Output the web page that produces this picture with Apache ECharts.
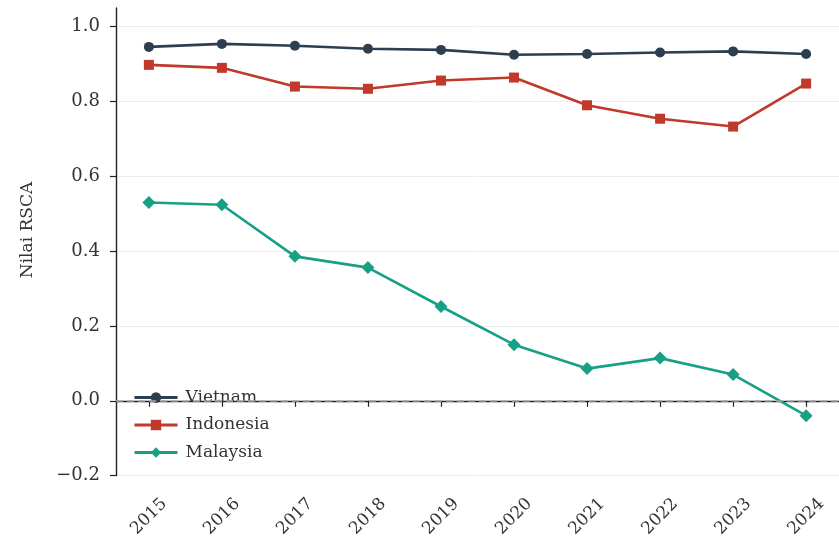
<!DOCTYPE html>
<html>
<head>
<meta charset="utf-8">
<script src="https://cdn.jsdelivr.net/npm/echarts@6/dist/echarts.min.js"></script>
<style>
  html, body { margin: 0; padding: 0; background: #fff; }
  #chart { width: 839px; height: 540px; }
</style>
</head>
<body>
<div id="chart"></div>
<script>
// RSCA values per country, 2015–2024
const years = [2015, 2016, 2017, 2018, 2019, 2020, 2021, 2022, 2023, 2024];
const vietnam = [0.946, 0.954, 0.949, 0.941, 0.938, 0.925, 0.927, 0.931, 0.934, 0.927];
const indonesia = [0.898, 0.890, 0.840, 0.834, 0.856, 0.864, 0.790, 0.754, 0.733, 0.848];
const malaysia = [0.530, 0.524, 0.386, 0.356, 0.252, 0.150, 0.086, 0.114, 0.070, -0.040];
const yTicks = [-0.2, 0.0, 0.2, 0.4, 0.6, 0.8, 1.0];

const FONT = 'DejaVu Serif';
const TEXT = '#333';
const pairs = vals => years.map((y, i) => [y, vals[i]]);

function lineSeries(name, vals, color, symbol, size) {
  return {
    name, type: 'line', data: pairs(vals),
    symbol, symbolSize: size,
    lineStyle: { color, width: 2.6 },
    itemStyle: { color },
    z: 3
  };
}

const chart = echarts.init(document.getElementById('chart'));
const series = [
  lineSeries('Vietnam', vietnam, '#2c3e50', 'circle', 10),
  lineSeries('Indonesia', indonesia, '#c0392b', 'rect', 10),
  lineSeries('Malaysia', malaysia, '#17a085', 'diamond', 13)
];
// zero reference line
series[0].markLine = {
  silent: true, symbol: 'none', label: { show: false },
  emphasis: { disabled: true },
  lineStyle: { color: '#a8a8a8', type: [7, 4], width: 1.5, opacity: 1 },
  data: [{ yAxis: 0 }]
};

chart.setOption({
  animation: false,
  grid: { left: 116, top: 8, width: 730, height: 468 },
  graphic: [{
    type: 'text', x: 28, y: 230, rotation: Math.PI / 2,
    style: {
      text: 'Nilai RSCA', font: '17px "DejaVu Serif"', fill: TEXT,
      align: 'center', verticalAlign: 'middle'
    }
  }],
  legend: {
    left: 128, top: 384, orient: 'vertical',
    itemWidth: 43, itemHeight: 13, itemGap: 10.5,
    lineStyle: { width: 3 },
    textStyle: { fontFamily: FONT, fontSize: 17, color: TEXT, padding: [0, 0, 0, 3] },
    data: ['Vietnam', 'Indonesia', 'Malaysia']
  },
  xAxis: {
    type: 'value', min: 2014.55, max: 2024.45,
    axisLine: { lineStyle: { color: '#222', width: 1.4 } },
    axisTick: { show: true, customValues: years, length: 6, lineStyle: { color: '#222', width: 1.2 } },
    axisLabel: {
      customValues: years, rotate: 45, margin: 41,
      align: 'center', verticalAlign: 'middle',
      fontFamily: FONT, fontSize: 17, color: TEXT,
      formatter: v => String(Math.round(v))
    },
    splitLine: { show: false }
  },
  yAxis: {
    type: 'value', min: -0.2, max: 1.05, interval: 0.2,
    axisLine: { show: true, lineStyle: { color: '#222', width: 1.4 } },
    axisTick: { show: true, length: 6, lineStyle: { color: '#222', width: 1.2 } },
    axisLabel: {
      showMaxLabel: false, margin: 16,
      fontFamily: FONT, fontSize: 18, color: TEXT,
      formatter: v => {
        const t = yTicks.find(k => Math.abs(k - v) < 1e-6);
        return t === undefined ? '' : t.toFixed(1).replace('-', '\u2212');
      }
    },
    splitLine: { show: true, showMaxLine: false, lineStyle: { color: '#eceef0', width: 1 } }
  },
  series
});
</script>
</body>
</html>
